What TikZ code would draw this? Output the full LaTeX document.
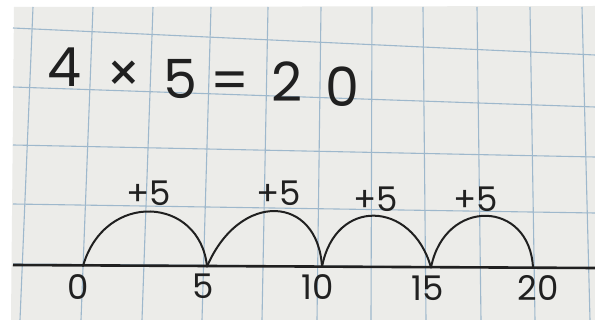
\documentclass[tikz,border=0pt]{standalone}
\usepackage{fontspec}
\setmainfont{Poppins}
\usetikzlibrary{positioning}
\definecolor{paper}{RGB}{236,236,233}
\definecolor{gridblue}{RGB}{158,184,204}
\definecolor{ink}{RGB}{32,32,32}
\tikzset{
  gridln/.style  ={draw=gridblue, line width=1.1pt},
  numline/.style ={draw=ink, line width=2.6pt},
  jump/.style    ={draw=ink, line width=2pt, line cap=round},
  num/.style     ={text=ink, font=\fontsize{34}{34}\selectfont, inner sep=0pt},
  jumplbl/.style ={text=ink, font=\fontsize{34}{34}\selectfont, inner sep=0pt},
  eq/.style      ={text=ink, font=\fontsize{54}{54}\selectfont, inner sep=0pt}
}

\begin{document}
\begin{tikzpicture}[x=1pt, y=-1pt]
    \useasboundingbox (0,0) rectangle (595,320);
    \fill[white] (0,0) rectangle (595,320);
    \fill[paper] (14,7) -- (595,6) -- (595,320) -- (11,320) -- cycle;
    % squared paper
    \foreach \xt/\xb in {33/20, 93/81, 153/142, 211/202, 268/262, 321/317,
                         372/371, 423/426, 477/481, 530/535, 582/590}
      \draw[gridln] (\xt,7) -- (\xb,320);
    \foreach \yl/\yr in {28/55, 87/107, 145/157, 204/213, 264/268}
      \draw[gridln] (13,\yl) -- (595,\yr);
    % equation
    \node[eq] (eqfour)   at (64,67)  {4};
    \node[eq] (eqtimes)  at (124,77) {×};
    \node[eq] (eqfive)   at (180,79) {5};
    \node[eq] (eqequals) at (230,86) {=};
    \node[eq] (eqtwo)    at (287,82) {2};
    \node[eq] (eqzero)   at (342,87) {0};
    % number line
    \coordinate (lstart) at (13,265);
    \coordinate (lend)   at (595,268);
    \coordinate (p0)  at (83,266);
    \coordinate (p5)  at (207,266.5);
    \coordinate (p10) at (322,267);
    \coordinate (p15) at (431,267.5);
    \coordinate (p20) at (533,268);
    \draw[numline] (lstart) -- (lend);
    \draw[jump] (p0)  .. controls +(22,-76)   and +(-7,-70)   .. (p5);
    \draw[jump] (p5)  .. controls +(33,-76.5) and +(-4,-72)   .. (p10);
    \draw[jump] (p10) .. controls +(13,-70)   and +(-19,-67.5) .. (p15);
    \draw[jump] (p15) .. controls +(14,-70.5) and +(-3,-68)   .. (p20);
    \node[jumplbl] (plus1) at (149,193) {+5};
    \node[jumplbl] (plus2) at (279,193) {+5};
    \node[jumplbl] (plus3) at (376,199) {+5};
    \node[jumplbl] (plus4) at (476,199) {+5};
    \node[num] (lab0)  at (78,287)  {0};
    \node[num] (lab5)  at (203,286) {5};
    \node[num] (lab10) at (318,287) {10};
    \node[num] (lab15) at (428,288) {15};
    \node[num] (lab20) at (538,288) {20};
\end{tikzpicture}
\end{document}
